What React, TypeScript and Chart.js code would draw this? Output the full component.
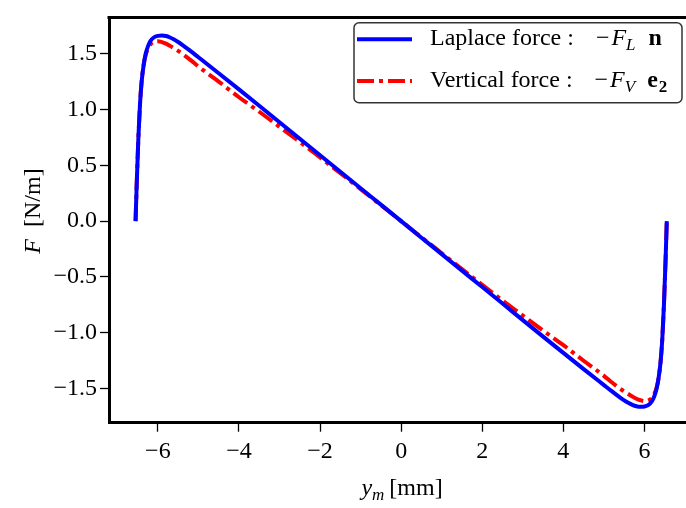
import React, { useEffect, useRef } from "react";
import { Chart, registerables } from "chart.js";

Chart.register(...registerables);

// y_m [mm]
const yPositions = [
  -6.55, -6.52, -6.48, -6.44, -6.4, -6.35, -6.3, -6.24, -6.18, -6.1, -6.0, -5.9, -5.8, -5.7,
  -5.6, -5.5, -5.4, -5.2, -5.0, -4.5, -4.0, -3.5, -3.0, -2.5, -2.0, -1.5, -1.0, -0.5, 0,
  0.5, 1.0, 1.5, 2.0, 2.5, 3.0, 3.5, 4.0, 4.5, 5.0, 5.2, 5.4, 5.5, 5.6, 5.7, 5.8, 5.9, 6.0,
  6.1, 6.18, 6.24, 6.3, 6.35, 6.4, 6.44, 6.48, 6.52, 6.55,
];

// Laplace force -F_L n [N/m]
const laplaceForce = [
  0, 0.35, 0.75, 1.05, 1.25, 1.4, 1.5, 1.57, 1.615, 1.645, 1.66, 1.663, 1.658, 1.645,
  1.627, 1.605, 1.58, 1.525, 1.468, 1.325, 1.18, 1.034, 0.886, 0.738, 0.59, 0.443, 0.295, 0.148, 0,
  -0.148, -0.295, -0.443, -0.59, -0.738, -0.886, -1.034, -1.18, -1.325, -1.468, -1.525, -1.58,
  -1.605, -1.627, -1.645, -1.658, -1.663, -1.66, -1.645, -1.615, -1.57, -1.5, -1.4, -1.25,
  -1.05, -0.75, -0.35, 0,
];

// Vertical force -F_V e2 [N/m]
const verticalForce = [
  0, 0.35, 0.75, 1.05, 1.25, 1.4, 1.49, 1.55, 1.585, 1.605, 1.612, 1.604, 1.59, 1.57,
  1.548, 1.525, 1.5, 1.445, 1.385, 1.25, 1.11, 0.98, 0.845, 0.71, 0.57, 0.43, 0.287, 0.144, 0,
  -0.144, -0.287, -0.43, -0.57, -0.71, -0.845, -0.98, -1.11, -1.25, -1.385, -1.445, -1.5,
  -1.525, -1.548, -1.57, -1.59, -1.604, -1.612, -1.605, -1.585, -1.55, -1.49, -1.4, -1.25,
  -1.05, -0.75, -0.35, 0,
];

const xTicks = [-6, -4, -2, 0, 2, 4, 6];
const yTicks = [-1.5, -1.0, -0.5, 0.0, 0.5, 1.0, 1.5];

const FONT = '"Liberation Serif", "Times New Roman", serif';
const minus = (s: string) => s.replace("-", "\u2212");

const decorations = {
  id: "decorations",
  afterDraw(chart: any) {
    const ctx: CanvasRenderingContext2D = chart.ctx;
    const a = chart.chartArea;
    ctx.save();
    // top frame line
    ctx.strokeStyle = "#000";
    ctx.lineWidth = 3;
    ctx.beginPath();
    ctx.moveTo(a.left - 1.5, a.top);
    ctx.lineTo(a.right, a.top);
    ctx.stroke();

    ctx.fillStyle = "#000";
    ctx.textBaseline = "alphabetic";
    ctx.textAlign = "left";
    const seg = (t: string, x: number, y: number, f: string) => {
      ctx.font = f;
      ctx.fillText(t, x, y);
      return x + ctx.measureText(t).width;
    };
    const R = `24px ${FONT}`;
    const I = `italic 24px ${FONT}`;
    const B = `bold 24px ${FONT}`;
    const SI = `italic 17px ${FONT}`;
    const SB = `bold 17px ${FONT}`;

    // legend
    const lx = 354, ly = 22.7, lw = 328, lh = 80;
    ctx.fillStyle = "rgba(255,255,255,0.85)";
    ctx.strokeStyle = "rgba(0,0,0,0.8)";
    ctx.lineWidth = 1.5;
    ctx.beginPath();
    (ctx as any).roundRect(lx, ly, lw, lh, 5);
    ctx.fill();
    ctx.stroke();

    ctx.lineWidth = 4;
    ctx.strokeStyle = "#0000ff";
    ctx.setLineDash([]);
    ctx.beginPath();
    ctx.moveTo(357, 39.3);
    ctx.lineTo(412, 39.3);
    ctx.stroke();
    ctx.strokeStyle = "#ff0000";
    ctx.setLineDash([17, 5, 4, 5]);
    ctx.beginPath();
    ctx.moveTo(357, 81);
    ctx.lineTo(412, 81);
    ctx.stroke();
    ctx.setLineDash([]);

    ctx.fillStyle = "#000";
    let x = seg("Laplace force :", 430, 45, R);
    x = seg("\u2212", x + 22, 45, R);
    x = seg("F", x + 2, 45, I);
    x = seg("L", x, 50, SI);
    x = seg("n", x + 13, 45, B);

    x = seg("Vertical force :", 430, 86.7, R);
    x = seg("\u2212", x + 22, 86.7, R);
    x = seg("F", x + 2, 86.7, I);
    x = seg("V", x, 91.7, SI);
    x = seg("e", x + 12, 86.7, B);
    x = seg("2", x + 1, 91.7, SB);

    // x-axis title
    ctx.font = I;
    const wy = ctx.measureText("y").width;
    ctx.font = SI;
    const wm = ctx.measureText("m").width;
    ctx.font = R;
    const wb = ctx.measureText("[mm]").width;
    const total = wy + wm + 5 + wb;
    x = 402 - total / 2;
    x = seg("y", x, 495, I);
    x = seg("m", x, 500, SI);
    seg("[mm]", x + 5, 495, R);

    // y-axis title
    ctx.translate(40, 211);
    ctx.rotate(-Math.PI / 2);
    ctx.font = I;
    const wF = ctx.measureText("F").width;
    ctx.font = R;
    const wN = ctx.measureText("[N/m]").width;
    const tot2 = wF + 12 + wN;
    x = -tot2 / 2;
    x = seg("F", x, 0, I);
    seg("[N/m]", x + 12, 0, R);

    ctx.restore();
  },
};

export default function App() {
  const ref = useRef<HTMLCanvasElement>(null);

  useEffect(() => {
    if (!ref.current) return;
    const chart = new Chart(ref.current, {
      type: "line",
      data: {
        datasets: [
          {
            label: "Laplace force",
            data: yPositions.map((v, i) => ({ x: v, y: laplaceForce[i] })),
            borderColor: "#0000ff",
            borderWidth: 4,
            pointRadius: 0,
            cubicInterpolationMode: "monotone",
            fill: false,
          },
          {
            label: "Vertical force",
            data: yPositions.map((v, i) => ({ x: v, y: verticalForce[i] })),
            borderColor: "#ff0000",
            borderWidth: 4,
            borderDash: [17, 5, 4, 5],
            pointRadius: 0,
            cubicInterpolationMode: "monotone",
            fill: false,
          },
        ],
      },
      options: {
        animation: false,
        responsive: false,
        maintainAspectRatio: false,
        layout: { padding: { top: 6.7, right: 0, left: 0, bottom: 0 } },
        plugins: { legend: { display: false }, tooltip: { enabled: false } },
        scales: {
          x: {
            type: "linear",
            min: -7.205,
            max: 7.024,
            afterBuildTicks: (s: any) => {
              s.ticks = xTicks.map((v) => ({ value: v }));
            },
            afterFit: (s: any) => {
              s.height = 85.3;
            },
            ticks: {
              color: "#000",
              font: { family: FONT, size: 24 },
              padding: 6,
              maxRotation: 0,
              autoSkip: false,
              callback: (v: any) => minus(String(v)),
            },
            grid: {
              display: true,
              drawOnChartArea: false,
              drawTicks: true,
              tickLength: 9,
              tickWidth: 1.3,
              tickColor: "#000",
            },
            border: { display: true, color: "#000", width: 3 },
          },
          y: {
            type: "linear",
            min: -1.805,
            max: 1.825,
            afterBuildTicks: (s: any) => {
              s.ticks = yTicks.map((v) => ({ value: v }));
            },
            afterFit: (s: any) => {
              s.width = 109;
            },
            ticks: {
              color: "#000",
              font: { family: FONT, size: 24 },
              padding: 3,
              autoSkip: false,
              callback: (v: any) => minus(Number(v).toFixed(1)),
            },
            grid: {
              display: true,
              drawOnChartArea: false,
              drawTicks: true,
              tickLength: 9,
              tickWidth: 1.3,
              tickColor: "#000",
            },
            border: { display: true, color: "#000", width: 3 },
          },
        },
      },
      plugins: [decorations],
    });
    return () => chart.destroy();
  }, []);

  return (
    <div style={{ position: "absolute", left: 0, top: 0, width: 686, height: 508, background: "#fff" }}>
      <canvas ref={ref} width={686} height={508} style={{ width: 686, height: 508, display: "block" }} />
    </div>
  );
}
